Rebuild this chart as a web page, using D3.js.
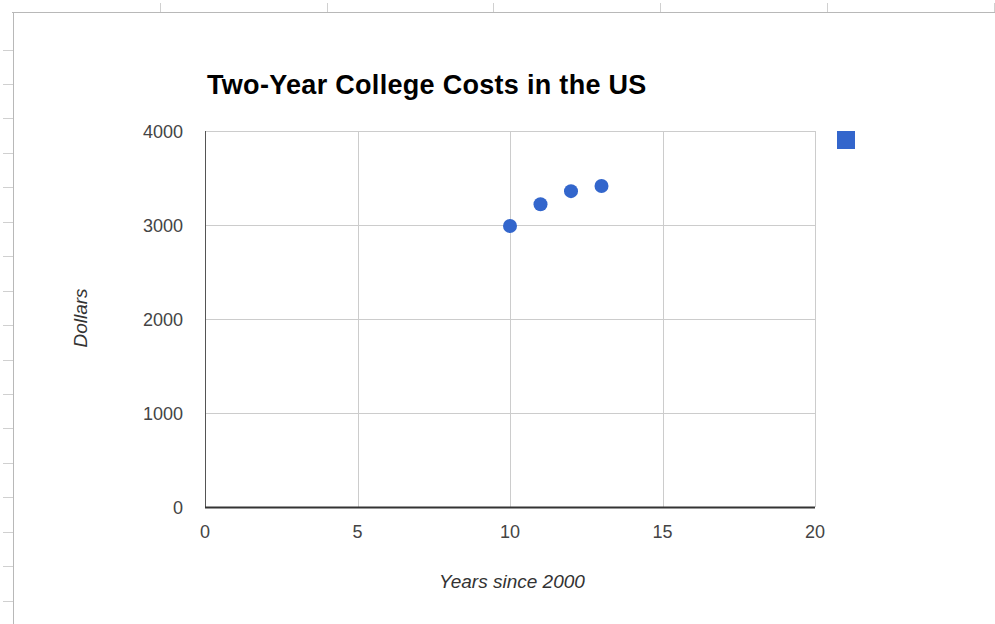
<!DOCTYPE html>
<html>
<head>
<meta charset="utf-8">
<script src="https://cdn.jsdelivr.net/npm/d3@7"></script>
<style>
  body { margin: 0; background: #fff; }
  svg { display: block; font-family: "Liberation Sans", Arial, sans-serif; }
</style>
</head>
<body>
<svg id="chart" width="995" height="624"></svg>
<script>
/* global d3 */

// data
const years = [10, 11, 12, 13];
const costs = [2990, 3220, 3360, 3415];
const xTicks = [0, 5, 10, 15, 20];
const yTicks = [0, 1000, 2000, 3000, 4000];

(function() {
  const svg = d3.select("#chart");
  const blue = "#3366cc";

  // spreadsheet frame behind the chart
  const frame = svg.append("g").attr("stroke", "#b8b8b8").attr("stroke-width", 1);
  frame.append("line").attr("x1", 12).attr("x2", 995).attr("y1", 12.5).attr("y2", 12.5);
  frame.append("line").attr("x1", 13.5).attr("x2", 13.5).attr("y1", 12).attr("y2", 624);
  d3.range(160, 995, 166.7).forEach(x => {
    frame.append("line").attr("x1", Math.round(x) + 0.5).attr("x2", Math.round(x) + 0.5)
      .attr("y1", 3).attr("y2", 12).attr("stroke", "#d0d0d0");
  });
  d3.range(49.5, 624, 34.45).forEach(y => {
    frame.append("line").attr("x1", 3).attr("x2", 13).attr("y1", Math.round(y) + 0.5)
      .attr("y2", Math.round(y) + 0.5).attr("stroke", "#d0d0d0");
  });

  const x = d3.scaleLinear().domain([0, 20]).range([205, 815]);
  const y = d3.scaleLinear().domain([0, 4000]).range([507, 131]);

  // gridlines
  svg.append("g")
    .selectAll("line")
    .data(xTicks.slice(1))
    .enter()
    .append("line")
    .attr("x1", d => Math.round(x(d)) + 0.5)
    .attr("x2", d => Math.round(x(d)) + 0.5)
    .attr("y1", y(4000))
    .attr("y2", y(0))
    .attr("stroke", "#cccccc");

  svg.append("g")
    .selectAll("line")
    .data(yTicks.slice(1))
    .enter()
    .append("line")
    .attr("x1", x(0))
    .attr("x2", x(20))
    .attr("y1", d => Math.round(y(d)) + 0.5)
    .attr("y2", d => Math.round(y(d)) + 0.5)
    .attr("stroke", "#cccccc");

  // axis lines
  svg.append("line")
    .attr("x1", x(0) + 0.5).attr("x2", x(0) + 0.5)
    .attr("y1", y(4000)).attr("y2", y(0))
    .attr("stroke", "#555").attr("stroke-width", 1);
  svg.append("line")
    .attr("x1", x(0)).attr("x2", x(20))
    .attr("y1", y(0) + 0.5).attr("y2", y(0) + 0.5)
    .attr("stroke", "#333").attr("stroke-width", 2);

  // tick labels
  svg.append("g")
    .selectAll("text")
    .data(xTicks)
    .enter()
    .append("text")
    .attr("x", d => x(d))
    .attr("y", 538)
    .attr("text-anchor", "middle")
    .attr("font-size", 18)
    .attr("fill", "#444")
    .text(d => d);

  svg.append("g")
    .selectAll("text")
    .data(yTicks)
    .enter()
    .append("text")
    .attr("x", 183)
    .attr("y", d => y(d) + 7)
    .attr("text-anchor", "end")
    .attr("font-size", 18)
    .attr("fill", "#444")
    .text(d => d);

  // points
  svg.append("g")
    .selectAll("circle")
    .data(years.map((d, i) => ({ yr: d, cost: costs[i] })))
    .enter()
    .append("circle")
    .attr("cx", d => x(d.yr))
    .attr("cy", d => y(d.cost))
    .attr("r", 7)
    .attr("fill", blue);

  // legend marker (series has no name)
  svg.append("rect")
    .attr("x", 837).attr("y", 131)
    .attr("width", 18).attr("height", 18)
    .attr("fill", blue);

  // titles
  svg.append("text")
    .attr("x", 207).attr("y", 94)
    .attr("font-size", 27).attr("font-weight", "bold")
    .attr("letter-spacing", 0.3)
    .attr("fill", "#000")
    .text("Two-Year College Costs in the US");

  svg.append("text")
    .attr("x", 512).attr("y", 588)
    .attr("text-anchor", "middle")
    .attr("font-size", 19).attr("font-style", "italic")
    .attr("fill", "#333")
    .text("Years since 2000");

  svg.append("text")
    .attr("transform", "translate(87,318) rotate(-90)")
    .attr("text-anchor", "middle")
    .attr("font-size", 19).attr("font-style", "italic")
    .attr("fill", "#333")
    .text("Dollars");
})();
</script>
</body>
</html>
